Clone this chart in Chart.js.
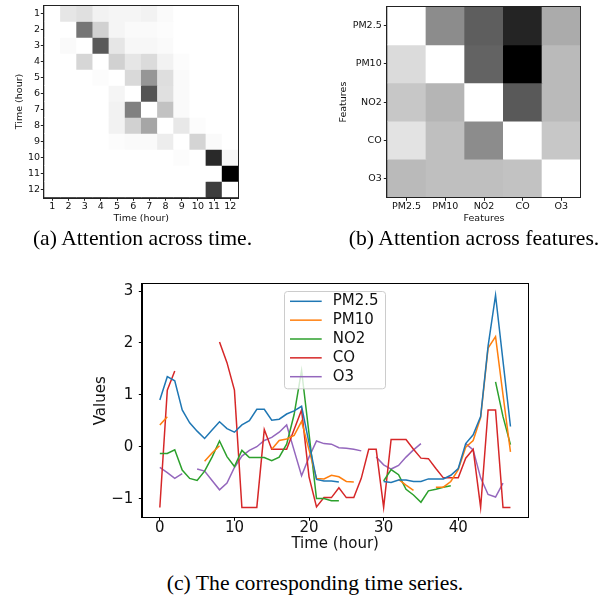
<!DOCTYPE html>
<html><head><meta charset="utf-8">
<script src="https://cdn.jsdelivr.net/npm/chart.js@4.4.1/dist/chart.umd.min.js"></script>
<style>
html,body{margin:0;padding:0;background:#fff;width:610px;height:602px;overflow:hidden;position:relative;}
canvas{position:absolute;}
.cap{position:absolute;font-family:"Liberation Serif","Times New Roman",serif;font-size:21.7px;line-height:21.7px;white-space:nowrap;text-align:center;width:400px;color:#000;}
</style></head><body>
<canvas id="ca" width="245" height="232" style="left:0;top:0"></canvas>
<canvas id="cb" width="275" height="232" style="left:330px;top:0"></canvas>
<canvas id="cc" width="460" height="290" style="left:80px;top:270px"></canvas>
<div class="cap" style="left:-57.5px;top:227.8px">(a) Attention across time.</div>
<div class="cap" style="left:274px;top:227.8px">(b) Attention across features.</div>
<div class="cap" style="left:115px;top:572.8px">(c) The corresponding time series.</div>
<script>
// ---------- data ----------
const hourLabels = ['1','2','3','4','5','6','7','8','9','10','11','12'];
const featureLabels = ['PM2.5','PM10','NO2','CO','O3'];

// attention weights (0 = white, 1 = black)
const timeAttention = [
  [0,.10,.12,.05,.04,.04,.05,.02,0,0,0,0],
  [0,0,.54,.18,.04,.02,.02,.01,0,0,0,0],
  [0,.02,0,.65,.10,.03,.03,.02,0,0,0,0],
  [0,0,.16,0,.18,.10,.14,.05,.01,0,0,0],
  [0,0,0,.01,0,.15,.41,.13,.02,0,0,0],
  [0,0,0,0,.04,0,.67,.12,.02,0,0,0],
  [0,0,0,0,.05,.50,0,.24,.02,0,0,0],
  [0,0,0,0,.05,.18,.35,0,.09,.01,0,0],
  [0,0,0,0,.01,.02,.02,.07,0,.17,.02,0],
  [0,0,0,0,0,0,0,0,.01,0,.84,.03],
  [0,0,0,0,0,0,0,0,0,0,0,1],
  [0,0,0,0,0,0,0,0,0,0,.76,0]
];
const featureAttention = [
  [0,.45,.63,.86,.33],
  [.14,0,.61,1,.27],
  [.22,.29,0,.65,.27],
  [.11,.25,.45,0,.22],
  [.27,.25,.25,.24,0]
];

const hours = [0,1,2,3,4,5,6,7,8,9,10,11,12,13,14,15,16,17,18,19,20,21,22,23,24,25,26,27,28,29,30,31,32,33,34,35,36,37,38,39,40,41,42,43,44,45,46,47];
const pm25 = [0.90,1.35,1.27,0.71,0.46,0.30,0.16,0.32,0.48,0.35,0.28,0.42,0.50,0.72,0.72,0.51,0.53,0.63,0.69,0.78,0.07,-0.63,-0.66,-0.66,-0.68,null,null,null,null,null,-0.67,-0.69,-0.64,-0.64,-0.67,-0.67,-0.62,-0.62,-0.62,-0.55,-0.42,0.06,0.23,0.58,1.94,2.92,1.65,0.39];
const pm10 = [0.42,0.58,null,null,null,null,-0.28,-0.12,0.02,null,null,null,null,null,null,-0.05,0.12,0.15,0.22,0.49,-0.06,-0.61,-0.62,-0.55,-0.58,-0.67,-0.68,null,null,null,null,null,-0.63,-0.74,-0.84,null,null,-0.78,-0.78,-0.67,-0.44,-0.01,0.12,0.56,1.90,2.12,1.00,-0.10];
const no2 = [-0.13,-0.13,-0.06,-0.45,-0.61,-0.65,-0.47,-0.20,0.11,-0.19,-0.38,-0.07,-0.21,-0.21,-0.21,-0.27,-0.20,0.05,0.62,1.47,0.25,-1.00,-1.00,-1.04,-1.04,null,null,null,null,null,-0.66,-0.44,-0.54,-0.82,-0.93,-1.07,-0.85,-0.82,-0.78,-0.75,null,null,null,null,null,1.25,0.58,0.04];
const co = [-1.17,1.09,1.46,null,null,null,null,null,2.02,1.62,1.09,-1.17,-1.17,-1.17,0.33,-0.05,-0.05,-0.05,0.33,0.71,-0.58,-1.16,-0.98,-0.98,-0.79,-0.98,-0.98,-0.61,-0.05,-0.05,-1.17,0.14,0.14,0.14,-0.05,-0.22,-0.23,-0.42,-0.60,-0.60,-0.60,-0.22,-0.05,-1.17,0.71,0.71,-1.17,-1.17];
const o3 = [-0.40,-0.50,-0.61,-0.52,null,-0.43,-0.47,-0.65,-0.83,-0.70,-0.40,-0.18,-0.07,0.00,0.12,0.18,0.28,0.42,-0.07,-0.56,-0.20,0.11,0.06,0.05,-0.02,-0.03,-0.05,-0.08,null,-0.20,-0.35,-0.43,-0.36,-0.20,-0.06,0.06,null,null,null,null,null,0.06,-0.06,-0.60,-0.92,-0.97,-0.70,null];
const seriesNames = ['PM2.5','PM10','NO2','CO','O3'];
const seriesColors = ['#1f77b4','#ff7f0e','#2ca02c','#d62728','#9467bd'];
const xTicks = [0,10,20,30,40];
const yTicks = [-1,0,1,2,3];

// ---------- helpers ----------
Chart.defaults.font.family = '"DejaVu Sans", sans-serif';
Chart.defaults.color = '#000';
function grayOf(v){ const g = Math.round(255*(1-v)); return `rgb(${g},${g},${g})`; }

const framePlugin = {
  id: 'frame',
  afterDraw(chart, args, opts) {
    const {ctx, chartArea: a} = chart;
    ctx.save();
    ctx.strokeStyle = opts.color || '#000';
    ctx.lineWidth = opts.width || 1;
    ctx.strokeRect(Math.round(a.left)-0.5, Math.round(a.top)-0.5, Math.round(a.right-a.left)+1, Math.round(a.bottom-a.top)+1);
    ctx.restore();
  }
};

function heatmap(id, matrix, labels, xTitle, yTitle, L) {
  const n = labels.length;
  const datasets = matrix.map((row, r) => ({
    label: labels[r],
    data: row.map(() => 1),
    backgroundColor: row.map(v => grayOf(v)),
    borderWidth: 0,
    categoryPercentage: 1,
    barPercentage: 1
  }));
  const fs = L.fs;
  return new Chart(document.getElementById(id), {
    type: 'bar',
    data: { labels: labels, datasets },
    plugins: [framePlugin],
    options: {
      responsive: false, animation: false, events: [],
      layout: { padding: { top: L.pt, right: L.pr, left: 0, bottom: 0 } },
      plugins: { legend: { display: false }, tooltip: { enabled: false }, frame: { color: '#222', width: 1 } },
      scales: {
        x: {
          stacked: true, offset: true,
          grid: { offset: false, drawOnChartArea: false, drawTicks: true, tickLength: 3.5, color: '#222' },
          border: { display: true, color: '#222' },
          ticks: { font: { size: fs, lineHeight: 1 }, padding: L.xtp, maxRotation: 0, autoSkip: false, color: '#111' },
          title: { display: true, text: xTitle, font: { size: fs, lineHeight: 1 }, padding: { top: 0, bottom: L.xttp }, color: '#111' },
          afterFit: s => { s.height = L.xh; }
        },
        y: {
          stacked: true, min: 0, max: n, reverse: true,
          grid: { drawOnChartArea: false, drawTicks: true, tickLength: 3.5, color: '#222' },
          border: { display: true, color: '#222' },
          afterBuildTicks: s => { s.ticks = labels.map((_, i) => ({ value: i + 0.5 })); },
          ticks: { font: { size: fs, lineHeight: 1 }, padding: L.ytp, autoSkip: false, color: '#111',
                   callback: (v, i) => labels[i] },
          title: { display: true, text: yTitle, font: { size: fs, lineHeight: 1 }, padding: { top: L.yttp, bottom: 0 }, color: '#111' },
          afterFit: s => { s.width = L.yw; }
        }
      }
    }
  });
}

heatmap('ca', timeAttention, hourLabels, 'Time (hour)', 'Time (hour)',
  { fs: 9.5, pt: 4, pr: 6.7, xh: 34.7, yw: 44.3, xtp: 1.45, xttp: 8.55, ytp: 0.8, yttp: 15.25 });
heatmap('cb', featureAttention, featureLabels, 'Features', 'Features',
  { fs: 9.5, pt: 4, pr: 24.3, xh: 34.7, yw: 57.3, xtp: 1.45, xttp: 8.55, ytp: 2.1, yttp: 8.95 });

// ---------- time series ----------
const legendBox = {
  id: 'legendBox',
  afterDatasetsDraw(chart) {
    const {ctx, chartArea: a} = chart;
    const x0 = a.left + 141.7, y0 = a.top + 6.4, w = 101, h = 97.3;
    ctx.save();
    ctx.fillStyle = 'rgba(255,255,255,0.8)';
    ctx.strokeStyle = '#cccccc';
    ctx.lineWidth = 1;
    ctx.beginPath();
    ctx.roundRect(Math.round(x0)+0.5, Math.round(y0)+0.5, w, h, 3);
    ctx.fill(); ctx.stroke();
    chart.data.datasets.forEach((ds, i) => {
      const y = y0 + 10.6 + i * 18.85;
      ctx.strokeStyle = ds.borderColor; ctx.lineWidth = 1.5;
      ctx.beginPath(); ctx.moveTo(x0 + 6, y); ctx.lineTo(x0 + 37.7, y); ctx.stroke();
      ctx.fillStyle = '#111'; ctx.font = '15px "DejaVu Sans"'; ctx.textBaseline = 'middle'; ctx.textAlign = 'left';
      ctx.fillText(ds.label, x0 + 48.7, y);
    });
    ctx.restore();
  }
};

const allSeries = [pm25, pm10, no2, co, o3];
new Chart(document.getElementById('cc'), {
  type: 'line',
  data: {
    datasets: allSeries.map((s, k) => ({
      label: seriesNames[k],
      data: hours.map((h, i) => ({ x: h, y: s[i] })),
      borderColor: seriesColors[k],
      backgroundColor: seriesColors[k],
      borderWidth: 1.5,
      pointRadius: 0,
      tension: 0,
      spanGaps: false
    }))
  },
  plugins: [legendBox, framePlugin],
  options: {
    responsive: false, animation: false, events: [],
    layout: { padding: { top: 14.3, right: 12, left: 0, bottom: 0 } },
    plugins: { legend: { display: false }, tooltip: { enabled: false }, frame: { color: '#000', width: 1 } },
    scales: {
      x: {
        type: 'linear', min: -2.35, max: 49.35,
        grid: { drawOnChartArea: false, drawTicks: true, tickLength: 3.5, color: '#000' },
        border: { display: true, color: '#000' },
        afterBuildTicks: s => { s.ticks = xTicks.map(v => ({ value: v })); },
        ticks: { font: { size: 15, lineHeight: 1 }, padding: 0, maxRotation: 0, color: '#111' },
        title: { display: true, text: 'Time (hour)', font: { size: 15, lineHeight: 1 }, padding: { top: 0, bottom: 8.5 }, color: '#111' },
        afterFit: s => { s.height = 42.7; }
      },
      y: {
        type: 'linear', min: -1.36, max: 3.13,
        grid: { drawOnChartArea: false, drawTicks: true, tickLength: 3.5, color: '#000' },
        border: { display: true, color: '#000' },
        afterBuildTicks: s => { s.ticks = yTicks.map(v => ({ value: v })); },
        ticks: { font: { size: 15, lineHeight: 1 }, padding: 5.5, color: '#111',
                 callback: v => (v < 0 ? '\u2212' + Math.abs(v) : String(v)) },
        title: { display: true, text: 'Values', font: { size: 15, lineHeight: 1 }, padding: { top: 13.5, bottom: 0 }, color: '#111' },
        afterFit: s => { s.width = 62.3; }
      }
    }
  }
});
</script>
</body></html>
